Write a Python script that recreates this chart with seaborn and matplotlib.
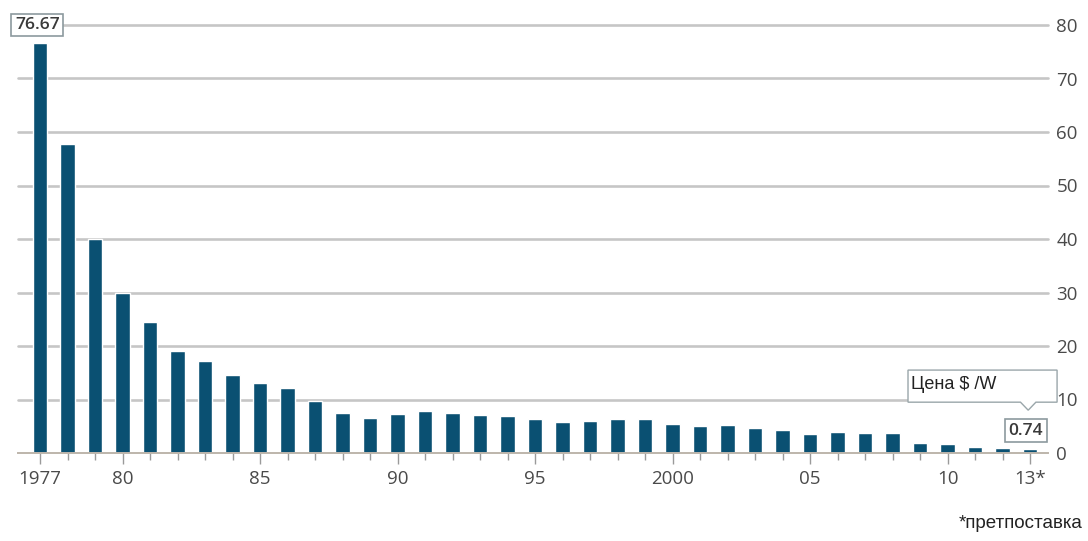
import matplotlib
matplotlib.use("Agg")
import matplotlib.pyplot as plt
from matplotlib.patches import Polygon
import seaborn as sns
import pandas as pd

# Solar PV module price, $ per watt
years = list(range(1977, 2014))
prices = [76.67, 57.8, 40.0, 29.9, 24.5, 19.1, 17.2, 14.6, 13.1, 12.1,
          9.7, 7.4, 6.6, 7.3, 7.85, 7.5, 7.1, 7.0, 6.3, 5.85,
          6.0, 6.3, 6.3, 5.35, 5.1, 5.2, 4.7, 4.3, 3.55, 3.9,
          3.7, 3.8, 1.8, 1.7, 1.2, 0.88, 0.74]
year_labels = {1977: "1977", 1980: "80", 1985: "85", 1990: "90", 1995: "95",
               2000: "2000", 2005: "05", 2010: "10", 2013: "13*"}
y_ticks = [0, 10, 20, 30, 40, 50, 60, 70, 80]
legend_text = "Цена $ /W"
footnote = "*претпоставка"

bar_color = "#0a5072"
grid_color = "#c6c6c6"
text_color = "#4a4a4a"

sns.set_theme(style="white")
plt.rcParams["font.family"] = ["Open Sans", "DejaVu Sans"]

df = pd.DataFrame({"year": [str(y) for y in years], "price": prices})

fig = plt.figure(figsize=(10.88, 5.41), dpi=100)
ax = fig.add_axes([18 / 1088, 1 - 453 / 541, (1048 - 18) / 1088, (453 - 25) / 541])

sns.barplot(data=df, x="year", y="price", color=bar_color, width=0.52,
            saturation=1, ax=ax, zorder=3)

ax.set_xlim(-0.8, len(years) - 1 + 0.65)
ax.set_ylim(0, 80)
ax.set_xlabel("")
ax.set_ylabel("")

# right-hand value axis with horizontal grid
ax.yaxis.tick_right()
ax.set_yticks(y_ticks)
ax.set_yticklabels([str(v) for v in y_ticks], fontsize=13.5, color=text_color)
ax.tick_params(axis="y", length=0, pad=6)
for v in y_ticks[1:]:
    ax.axhline(v, color=grid_color, lw=1.9, zorder=1, clip_on=False)

for s in ["top", "left", "right"]:
    ax.spines[s].set_visible(False)
ax.spines["bottom"].set_color("#bdb5ab")
ax.spines["bottom"].set_linewidth(1.4)
ax.spines["bottom"].set_zorder(4)

# every year gets a short tick, labelled years a longer one
major_pos = [i for i, y in enumerate(years) if y in year_labels]
minor_pos = [i for i, y in enumerate(years) if y not in year_labels]
ax.set_xticks(major_pos)
ax.set_xticklabels([year_labels[years[i]] for i in major_pos], fontsize=13.5,
                   color=text_color)
ax.set_xticks(minor_pos, minor=True)
ax.tick_params(axis="x", which="major", direction="out", length=8, width=1,
               color="#9a9a9a", pad=4, bottom=True)
ax.tick_params(axis="x", which="minor", direction="out", length=5, width=1,
               color="#9a9a9a", bottom=True)

box_style = dict(boxstyle="square,pad=0.2", fc="white", ec="#8c9a9e", lw=1.2)

# first value label
ax.text(-0.1, 80, f"{prices[0]:.2f}", ha="center", va="center", fontsize=12.5,
        fontweight="semibold", color="#3a3a3a", bbox=box_style, zorder=6,
        clip_on=False)

# last value label
ax.text(35.85, 4.2, f"{prices[-1]:.2f}", ha="center", va="center", fontsize=12.5,
        fontweight="semibold", color="#3a3a3a", bbox=box_style, zorder=6,
        clip_on=False)

# callout box with a downward notch
x0, x1, yt, yb = 31.56, 36.98, 15.5, 9.5
nx, hw, tip = 35.93, 0.28, 8.0
callout = Polygon([(x0, yt), (x1, yt), (x1, yb), (nx + hw, yb), (nx, tip),
                   (nx - hw, yb), (x0, yb)], closed=True, fc="white",
                  ec="#9aa6aa", lw=1.0, zorder=5, clip_on=False)
ax.add_patch(callout)
ax.text(x0 + 0.12, (yt + yb) / 2 + 0.3, legend_text, ha="left", va="center",
        fontsize=13, color="#222222", zorder=6,
        family=["Liberation Sans Narrow", "Liberation Sans", "DejaVu Sans"])

fig.text(1083 / 1088, 1 - 524 / 541, footnote, ha="right", va="center",
         fontsize=13.5, color="#222222",
         family=["Liberation Sans", "DejaVu Sans"])

fig.savefig("out.png", dpi=100, facecolor="white")
